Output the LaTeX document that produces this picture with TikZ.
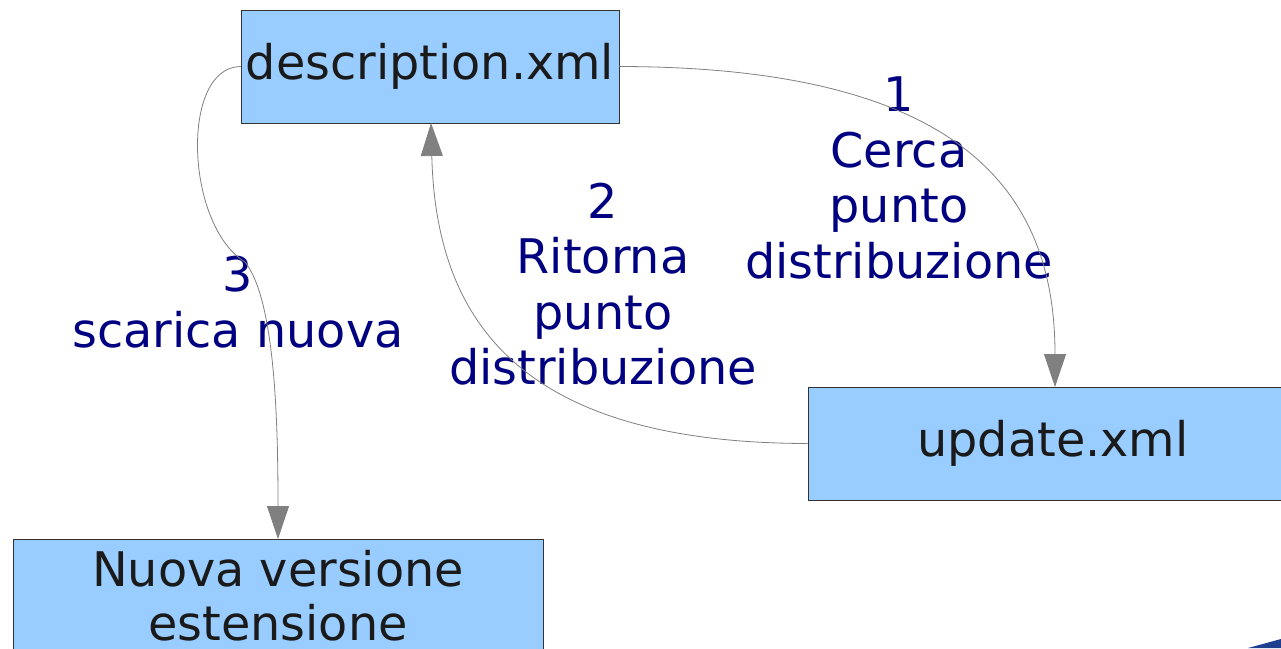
\documentclass[tikz,border=0pt]{standalone}
\usepackage{fontspec}
\setmainfont{DejaVu Sans}
\usetikzlibrary{arrows.meta}
\definecolor{boxfill}{HTML}{99CCFF}
\definecolor{labelblue}{HTML}{000080}
\definecolor{linegray}{HTML}{808080}
\definecolor{textdark}{HTML}{1A1A1A}
\definecolor{cornerblue}{HTML}{1F3F8F}
\tikzset{
  filebox/.style={draw=black!80, line width=0.9pt, fill=boxfill, text=textdark,
    minimum height=113pt, inner sep=0pt, align=center,
    font=\fontsize{47.7}{54}\selectfont},
  flowlabel/.style={text=labelblue, align=center, inner sep=0pt,
    font=\fontsize{47.7}{55.5}\selectfont},
  flow/.style={draw=linegray, line width=0.8pt,
    -{Triangle[width=22pt,length=33pt,fill=linegray]}}
}
\begin{document}
\begin{tikzpicture}[x=1pt,y=-1pt]
  \useasboundingbox (0,0) rectangle (1281,648);
  \clip (0,0) rectangle (1281,648);

  % files
  \node[filebox, minimum width=378pt] (desc) at (430,66.5) {description.xml};
  \node[filebox, minimum width=490pt] (upd) at (1053,443.5) {update.xml};
  \node[filebox, minimum width=530pt] (ext) at (278,595.5) {Nuova versione\\estensione};

  % step labels
  \node[flowlabel] (l1) at (899,178) {1\\Cerca\\punto\\distribuzione};
  \node[flowlabel] (l2) at (603,284) {2\\Ritorna\\punto\\distribuzione};
  \node[flowlabel] (l3) at (238,302) {3\\scarica nuova};

  % connectors
  \coordinate (updtop) at (1055,387);
  \coordinate (descbot) at (431,123);
  \coordinate (exttop) at (278,539);
  \coordinate (bend) at (245,262);
  \draw[flow] (desc.east) .. controls (960,67) and (1055,190) .. (updtop);
  \draw[flow] (upd.west) .. controls (530,443) and (436,330) .. (descbot);
  \draw[flow] (desc.west) .. controls (180,67) and (185,225) .. (bend)
    .. controls (275,300) and (278,420) .. (exttop);

  % corner decoration
  \fill[cornerblue] (1248,648) -- (1281,639) -- (1281,648) -- cycle;
\end{tikzpicture}
\end{document}
